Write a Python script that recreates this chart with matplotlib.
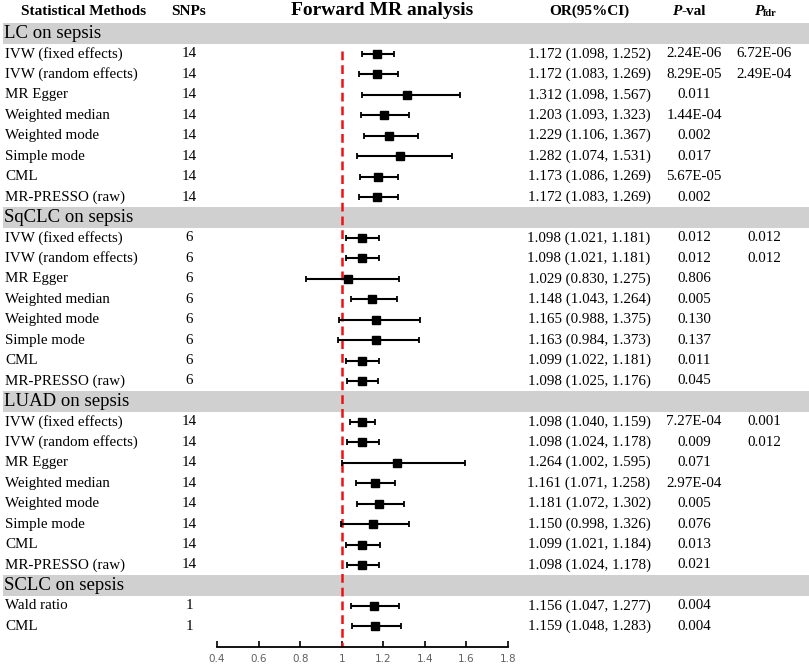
import numpy as np
import matplotlib
matplotlib.use('Agg')
import matplotlib.pyplot as plt

plt.rcParams['font.family'] = ['Liberation Serif', 'DejaVu Serif']

# groups and their row counts
groups = ['LC on sepsis', 'SqCLC on sepsis', 'LUAD on sepsis', 'SCLC on sepsis']
group_sizes = [8, 8, 8, 2]
group_snps = [14, 6, 14, 1]

methods = ['IVW (fixed effects)', 'IVW (random effects)', 'MR Egger', 'Weighted median',
           'Weighted mode', 'Simple mode', 'CML', 'MR-PRESSO (raw)'] * 3 + ['Wald ratio', 'CML']

or_val = [1.172, 1.172, 1.312, 1.203, 1.229, 1.282, 1.173, 1.172,
          1.098, 1.098, 1.029, 1.148, 1.165, 1.163, 1.099, 1.098,
          1.098, 1.098, 1.264, 1.161, 1.181, 1.150, 1.099, 1.098,
          1.156, 1.159]
ci_low = [1.098, 1.083, 1.098, 1.093, 1.106, 1.074, 1.086, 1.083,
          1.021, 1.021, 0.830, 1.043, 0.988, 0.984, 1.022, 1.025,
          1.040, 1.024, 1.002, 1.071, 1.072, 0.998, 1.021, 1.024,
          1.047, 1.048]
ci_high = [1.252, 1.269, 1.567, 1.323, 1.367, 1.531, 1.269, 1.269,
           1.181, 1.181, 1.275, 1.264, 1.375, 1.373, 1.181, 1.176,
           1.159, 1.178, 1.595, 1.258, 1.302, 1.326, 1.184, 1.178,
           1.277, 1.283]
p_val = ['2.24E-06', '8.29E-05', '0.011', '1.44E-04', '0.002', '0.017', '5.67E-05', '0.002',
         '0.012', '0.012', '0.806', '0.005', '0.130', '0.137', '0.011', '0.045',
         '7.27E-04', '0.009', '0.071', '2.97E-04', '0.005', '0.076', '0.013', '0.021',
         '0.004', '0.004']
p_fdr = ['6.72E-06', '2.49E-04', '', '', '', '', '', '',
         '0.012', '0.012', '', '', '', '', '', '',
         '0.001', '0.012', '', '', '', '', '', '',
         '', '']

xticks = [0.4, 0.6, 0.8, 1, 1.2, 1.4, 1.6, 1.8]

W, H = 809, 666
fig = plt.figure(figsize=(W / 100, H / 100), dpi=100)
ax = fig.add_axes([0, 0, 1, 1])

# pixel mapping of the OR axis: 0.4 -> 217 px, 1.8 -> 508 px
ppu = (508 - 217) / 1.4
ax.set_xlim(0.4 - 217 / ppu, 0.4 + (W - 217) / ppu)
pitch = 20.44
y0px = 33.5
ax.set_ylim((H - y0px) / pitch, -y0px / pitch)

tr = ax.get_yaxis_transform()  # x in figure fraction, y in row units
fx = lambda px: px / W

# build row positions
band_rows, data_rows, snp_col = [], [], []
r = 0
for g, n, s in zip(groups, group_sizes, group_snps):
    band_rows.append(r)
    r += 1
    for k in range(n):
        data_rows.append(r)
        snp_col.append(s)
        r += 1
data_rows = np.array(data_rows)
axis_row = r

fs = 10.8

# grey group bands
for g, br in zip(groups, band_rows):
    ax.axhspan(br - 0.52, br + 0.52, xmin=fx(3), xmax=1, color='#d0d0d0', lw=0, zorder=0)
    ax.text(fx(4), br, g, transform=tr, fontsize=13.5, va='center', ha='left')

# reference line
ax.plot([1, 1], [0.85, axis_row], color='#ee1111', ls=(0, (3.5, 2)), lw=1.8, zorder=2)

# estimates
or_arr = np.array(or_val)
err = np.vstack([or_arr - np.array(ci_low), np.array(ci_high) - or_arr])
ax.errorbar(or_arr, data_rows, xerr=err, fmt='s', color='black', ms=6,
            elinewidth=1.5, capsize=2.5, capthick=1.3, zorder=3)

# table columns
for i, yr in enumerate(data_rows):
    ax.text(fx(5), yr, methods[i], transform=tr, fontsize=fs, va='center', ha='left')
    ax.text(fx(189), yr, str(snp_col[i]), transform=tr, fontsize=fs, va='center', ha='center')
    ax.text(fx(589), yr, '%.3f (%.3f, %.3f)' % (or_val[i], ci_low[i], ci_high[i]),
            transform=tr, fontsize=fs, va='center', ha='center')
    ax.text(fx(694), yr, p_val[i], transform=tr, fontsize=fs, va='center', ha='center')
    if p_fdr[i]:
        ax.text(fx(764), yr, p_fdr[i], transform=tr, fontsize=fs, va='center', ha='center')

# headers
hy = -1.08
ax.text(fx(84), hy, 'Statistical Methods', transform=tr, fontsize=11, fontweight='bold', ha='center', va='center')
ax.text(fx(189), hy, 'SNPs', transform=tr, fontsize=11, fontweight='bold', ha='center', va='center')
ax.text(fx(382), hy - 0.05, 'Forward MR analysis', transform=tr, fontsize=14, fontweight='bold', ha='center', va='center')
ax.text(fx(589), hy, 'OR(95%CI)', transform=tr, fontsize=11, fontweight='bold', ha='center', va='center')
ax.text(fx(681), hy, 'P', transform=tr, fontsize=11, fontweight='bold', style='italic', ha='right', va='center')
ax.text(fx(681), hy, '-val', transform=tr, fontsize=11, fontweight='bold', ha='left', va='center')
ax.text(fx(763), hy, 'P', transform=tr, fontsize=11, fontweight='bold', style='italic', ha='right', va='center')
ax.text(fx(763), hy + 0.12, 'fdr', transform=tr, fontsize=7.5, fontweight='bold', ha='left', va='center')

# axis
for s in ['top', 'left', 'right']:
    ax.spines[s].set_visible(False)
ax.spines['bottom'].set_position(('data', axis_row))
ax.spines['bottom'].set_bounds(xticks[0], xticks[-1])
ax.spines['bottom'].set_linewidth(1.3)
ax.set_yticks([])
ax.set_xticks(xticks)
ax.set_xticklabels([('%g' % t) for t in xticks], fontsize=7.5, color='#606060', family='DejaVu Sans')
ax.tick_params(axis='x', direction='in', length=4, width=1.2, pad=5)

fig.savefig('out.png', dpi=100)
